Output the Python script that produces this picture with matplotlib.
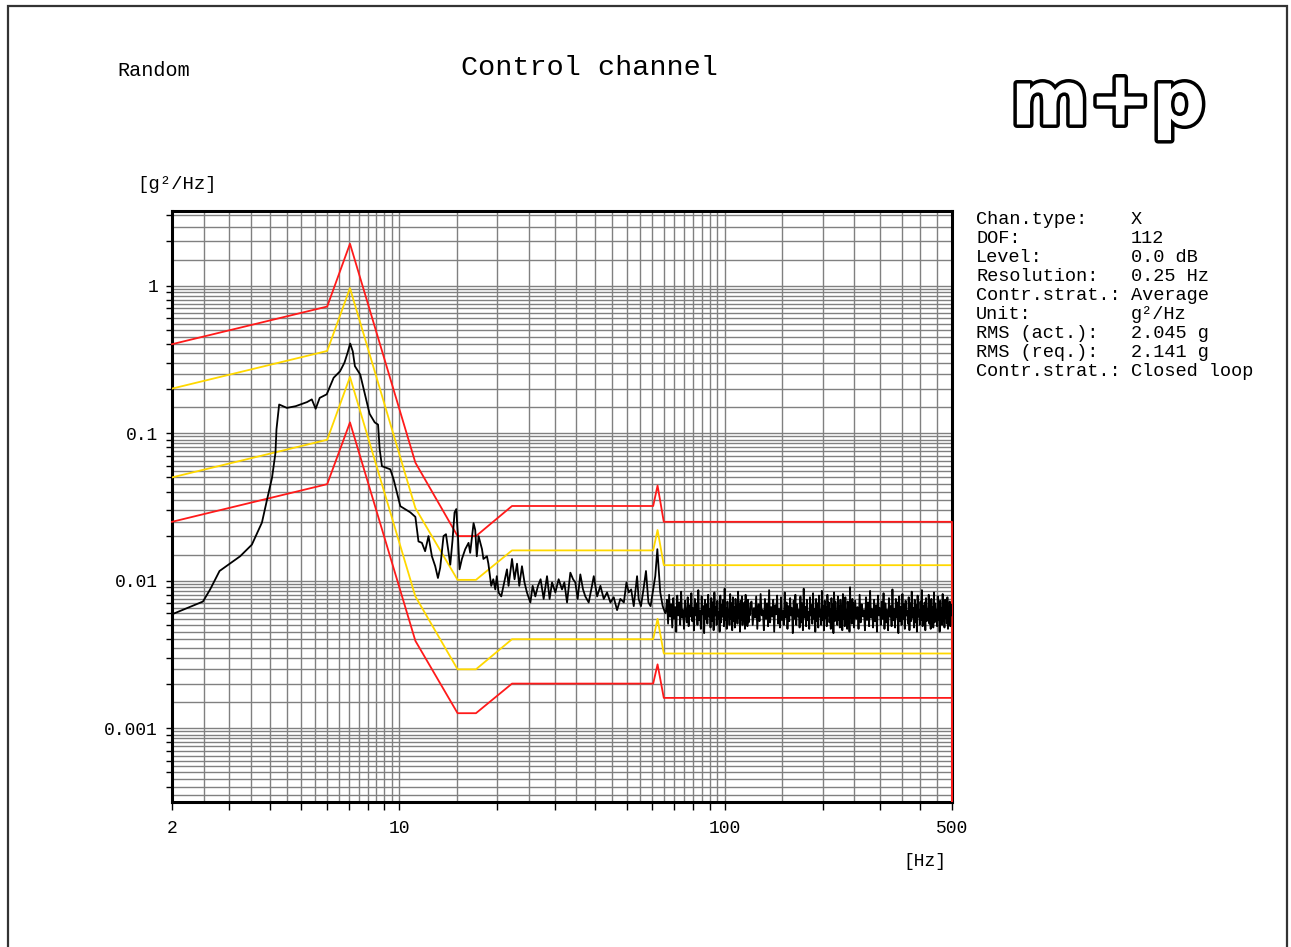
import numpy as np
import matplotlib
matplotlib.use('Agg')
import matplotlib.pyplot as plt
import matplotlib.patheffects as pe
from matplotlib.ticker import FixedLocator, NullFormatter
from matplotlib.patches import Rectangle

plt.rcParams['font.family'] = ['Liberation Mono', 'DejaVu Sans Mono']

# Tolerance profile breakpoints [Hz] and limit levels [g^2/Hz]
LIM_FREQ = [2, 6.0, 7.05, 11.2, 15.1, 17.2, 22.2, 60.3, 62.2, 65.0, 500, 500]
ABORT_HI = [0.40, 0.72, 1.92, 0.063, 0.020, 0.020, 0.032, 0.032, 0.044, 0.025, 0.025, 3.2e-4]
ALARM_HI = [0.20, 0.36, 0.96, 0.031, 0.0101, 0.0101, 0.016, 0.016, 0.022, 0.0127, 0.0127, 3.2e-4]
ALARM_LO = [0.050, 0.090, 0.24, 0.0078, 0.0025, 0.0025, 0.0040, 0.0040, 0.0055, 0.0032, 0.0032, 3.2e-4]
ABORT_LO = [0.025, 0.045, 0.118, 0.0039, 0.00126, 0.00126, 0.0020, 0.0020, 0.0027, 0.0016, 0.0016, 3.2e-4]

PSD_LOW_FREQ = [2.0, 2.49, 2.62, 2.8, 3.24, 3.52, 3.78, 3.92, 4.06, 4.16,
                4.19, 4.27, 4.51, 4.8, 5.2, 5.38, 5.53, 5.69, 5.98, 6.28,
                6.57, 6.78, 6.93, 7.06, 7.19, 7.3, 7.58, 7.85, 8.1, 8.4,
                8.6, 8.7, 8.84, 9.38, 9.6, 10.07, 10.8, 11.2]
PSD_LOW = [0.0059, 0.0072, 0.0087, 0.0116, 0.0146, 0.0175, 0.0247, 0.0354, 0.0497, 0.0734,
           0.106, 0.156, 0.148, 0.152, 0.162, 0.169, 0.146, 0.173, 0.183, 0.237,
           0.262, 0.30, 0.349, 0.404, 0.358, 0.284, 0.249, 0.18, 0.135, 0.118,
           0.114, 0.0774, 0.0596, 0.0567, 0.0485, 0.0319, 0.029, 0.027]

# mid band 11-66 Hz
PSD_MID_FREQ = [11.45, 11.73, 12.0, 12.29, 12.59, 12.89, 13.14, 13.35, 13.67, 13.91,
                14.17, 14.34, 14.57, 14.78, 14.96, 15.14, 15.31, 15.57, 15.94, 16.32,
                16.51, 16.91, 17.11, 17.3, 17.52, 17.95, 18.13, 18.59, 18.78, 19.16,
                19.44, 19.72, 19.93, 20.18, 20.57, 20.9, 21.42, 21.66, 22.2, 22.6,
                23.0, 23.37, 23.82, 24.25, 24.67, 25.28, 25.69, 26.18, 26.68, 27.18,
                27.77, 28.44, 28.97, 29.47, 30.17, 30.88, 31.63, 32.15, 32.77, 33.55,
                34.2, 34.75, 35.33, 36.0, 36.7, 37.3, 38.2, 39.1, 39.6, 40.55,
                41.5, 42.5, 43.5, 44.55, 45.6, 46.7, 47.8, 49.0, 49.9, 50.7,
                51.6, 52.55, 53.8, 54.4, 55.3, 56.3, 57.3, 58.3, 59.2, 60.3,
                61.2, 62.1, 62.8, 63.4, 64.5, 65.7]
PSD_MID = [0.0184, 0.018, 0.0158, 0.020, 0.0146, 0.0125, 0.0104, 0.0122, 0.020, 0.0206,
           0.0154, 0.0128, 0.0188, 0.0289, 0.0305, 0.020, 0.0119, 0.014, 0.0163, 0.018,
           0.0154, 0.0245, 0.022, 0.0146, 0.020, 0.0163, 0.014, 0.0146, 0.013, 0.0092,
           0.0102, 0.0087, 0.0107, 0.0083, 0.0078, 0.0092, 0.0119, 0.0092, 0.014, 0.0102,
           0.013, 0.0092, 0.0125, 0.0097, 0.0083, 0.0071, 0.0092, 0.0078, 0.0092, 0.0102,
           0.0075, 0.0107, 0.0075, 0.0097, 0.0083, 0.0102, 0.0087, 0.0097, 0.0071, 0.0113,
           0.0102, 0.0097, 0.0075, 0.011, 0.0087, 0.0078, 0.0071, 0.0092, 0.0107, 0.0078,
           0.0092, 0.0075, 0.0083, 0.0071, 0.0077, 0.0063, 0.0075, 0.0071, 0.0097, 0.0083,
           0.0087, 0.0067, 0.0107, 0.0075, 0.0067, 0.0087, 0.0116, 0.0071, 0.0067, 0.0087,
           0.0107, 0.0163, 0.0113, 0.0083, 0.0067, 0.006]

# high band, in 1e-4 g^2/Hz
# 66..120 Hz every 0.5 Hz
PSD_HI1 = [62, 74, 51, 80, 57, 69, 48, 76, 55, 66,
           45, 79, 58, 71, 50, 84, 56, 63, 47, 73,
           60, 52, 77, 49, 68, 57, 82, 53, 65, 46,
           75, 58, 70, 50, 86, 54, 62, 47, 78, 59,
           67, 44, 74, 55, 69, 51, 80, 57, 64, 48,
           76, 53, 71, 46, 83, 58, 66, 50, 73, 55,
           61, 45, 79, 52, 68, 57, 74, 49, 88, 54,
           65, 47, 72, 58, 63, 50, 81, 55, 70, 46,
           77, 53, 66, 48, 75, 59, 62, 51, 84, 56,
           69, 45, 73, 54, 78, 50, 64, 57, 71, 47,
           80, 55, 67, 49, 74, 52, 63, 58, 70]
# 121..250 Hz every 1 Hz
PSD_HI2 = [72, 50, 65, 56, 78, 47, 69, 53, 81, 58,
           63, 46, 75, 55, 70, 49, 86, 52, 66, 57,
           74, 45, 68, 59, 79, 51, 64, 48, 77, 54,
           62, 50, 83, 56, 71, 47, 67, 53, 76, 58,
           65, 44, 73, 55, 80, 50, 69, 57, 63, 48,
           78, 52, 70, 46, 88, 56, 66, 49, 74, 54,
           61, 47, 77, 58, 68, 51, 82, 55, 64, 45,
           75, 53, 70, 48, 79, 57, 63, 50, 85, 54,
           67, 46, 73, 56, 66, 49, 80, 58, 71, 52,
           64, 47, 76, 55, 69, 44, 83, 53, 72, 57,
           62, 50, 78, 54, 67, 48, 74, 59, 65, 46,
           81, 55, 70, 49, 77, 53, 63, 47, 72, 58,
           68, 45, 90, 56, 64, 51, 75, 54, 70, 48]
# 252..500 Hz every 2 Hz
PSD_HI3 = [73, 55, 66, 47, 80, 52, 69, 57, 63, 46,
           77, 54, 71, 49, 85, 56, 64, 48, 74, 53,
           68, 45, 79, 58, 65, 50, 72, 55, 82, 47,
           70, 52, 63, 46, 76, 57, 67, 49, 87, 54,
           64, 48, 75, 56, 71, 44, 78, 53, 66, 50,
           81, 55, 69, 47, 73, 58, 62, 51, 77, 46,
           70, 53, 84, 56, 65, 48, 74, 52, 68, 45,
           79, 57, 63, 50, 72, 54, 86, 49, 67, 55,
           71, 46, 76, 53, 64, 58, 80, 51, 69, 47,
           75, 55, 66, 48, 83, 52, 70, 56, 63, 49,
           78, 54, 68, 45, 73, 57, 65, 50, 81, 53,
           67, 48, 74, 56, 70, 51, 77, 47, 64, 55,
           72, 49, 69, 58, 62]

INFO_KEYS = ['Chan.type:', 'DOF:', 'Level:', 'Resolution:', 'Contr.strat.:',
             'Unit:', 'RMS (act.):', 'RMS (req.):', 'Contr.strat.:']
INFO_VALS = ['X', '112', '0.0 dB', '0.25 Hz', 'Average',
             'g\u00b2/Hz', '2.045 g', '2.141 g', 'Closed loop']

W, H = 1291, 947
fig = plt.figure(figsize=(W / 100, H / 100), dpi=100)
fig.patch.set_facecolor('white')

# outer frame of the printout
fig.patches.append(Rectangle((8 / W, -0.02), 1279 / W, 1.02 - 6 / H, transform=fig.transFigure,
                             fill=False, edgecolor='#333333', linewidth=1.6))

ax = fig.add_axes([172 / W, 1 - 802 / H, 780 / W, 591 / H])
ax.set_xscale('log')
ax.set_yscale('log')
ax.set_xlim(2, 500)
ax.set_ylim(3.15e-4, 3.2)

# dense grid: half steps within each decade
xg = np.concatenate([np.arange(2.5, 10, 0.5), np.arange(10, 100, 5), np.arange(100, 500, 50)])
for xv in xg:
    ax.axvline(xv, color='#808080', linewidth=1.0, zorder=1)
for dec in [1e-4, 1e-3, 1e-2, 1e-1, 1.0]:
    for k in np.arange(1, 10, 0.5):
        yv = k * dec
        if 3.15e-4 < yv < 3.2:
            ax.axhline(yv, color='#808080', linewidth=1.0, zorder=1)

yellow = '#ffd800'
red = '#ff1a1a'
ax.plot(LIM_FREQ, ALARM_HI, color=yellow, linewidth=1.3, zorder=3)
ax.plot(LIM_FREQ, ALARM_LO, color=yellow, linewidth=1.3, zorder=3)
ax.plot(LIM_FREQ, ABORT_LO, color=red, linewidth=1.3, zorder=3, clip_on=False)
ax.plot(LIM_FREQ, ABORT_HI, color=red, linewidth=1.3, zorder=3, clip_on=False)

f_hi1 = 66 + 0.5 * np.arange(len(PSD_HI1))
f_hi2 = 121 + np.arange(len(PSD_HI2))
f_hi3 = 252 + 2 * np.arange(len(PSD_HI3))
freq = np.concatenate([PSD_LOW_FREQ, PSD_MID_FREQ, f_hi1, f_hi2, f_hi3])
psd = np.concatenate([PSD_LOW, PSD_MID,
                      np.array(PSD_HI1) * 1e-4, np.array(PSD_HI2) * 1e-4, np.array(PSD_HI3) * 1e-4])
ax.plot(freq, psd, color='black', linewidth=1.3, zorder=4)

for s in ax.spines.values():
    s.set_linewidth(2.2)
    s.set_color('black')

ax.xaxis.set_major_locator(FixedLocator([2, 10, 100, 500]))
ax.xaxis.set_minor_locator(FixedLocator([3, 4, 5, 6, 7, 8, 9, 20, 30, 40, 50, 60, 70, 80, 90,
                                         200, 300, 400]))
ax.set_xticklabels(['2', '10', '100', '500'])
ax.xaxis.set_minor_formatter(NullFormatter())
ax.yaxis.set_major_locator(FixedLocator([1e-3, 1e-2, 1e-1, 1]))
ax.yaxis.set_minor_locator(FixedLocator([k * d for d in [1e-4, 1e-3, 1e-2, 1e-1, 1]
                                         for k in range(2, 10)]))
ax.set_yticklabels(['0.001', '0.01', '0.1', '1'])
ax.yaxis.set_minor_formatter(NullFormatter())
ax.tick_params(axis='x', which='both', direction='out', length=5.5, width=1.0, pad=7.5,
               labelsize=13)
ax.tick_params(axis='y', which='both', direction='out', length=4, width=1.0, pad=6,
               labelsize=13)

def fx(px):
    return px / W

def fy(py):
    return 1 - py / H

fig.text(fx(117), fy(70), 'Random', ha='left', va='center', fontsize=14.5)
fig.text(fx(589), fy(68), 'Control channel', ha='center', va='center', fontsize=20.5)
fig.text(fx(137), fy(184), '[g\u00b2/Hz]', ha='left', va='center', fontsize=13.7)
fig.text(fx(946), fy(861), '[Hz]', ha='right', va='center', fontsize=13)

for i, (k, v) in enumerate(zip(INFO_KEYS, INFO_VALS)):
    yy = 220 + i * 18.9
    fig.text(fx(976), fy(yy), k, ha='left', va='center', fontsize=13.4)
    fig.text(fx(1131), fy(yy), v, ha='left', va='center', fontsize=13.4)

# m+p logo, outlined letters
fig.text(fx(1108), fy(104), 'm+p', ha='center', va='center', fontsize=54,
         family='DejaVu Sans', weight='bold', color='white',
         path_effects=[pe.Stroke(linewidth=5, foreground='black'), pe.Normal()])

fig.savefig('out.png', dpi=100)
